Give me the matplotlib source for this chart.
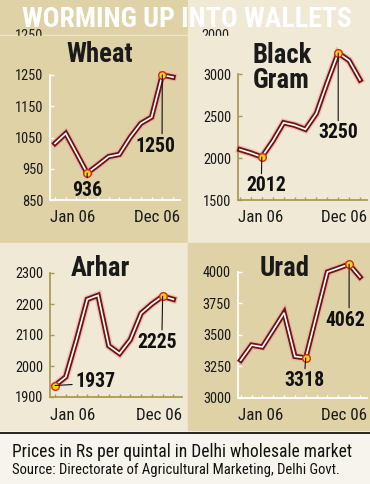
import matplotlib
matplotlib.use("Agg")
import matplotlib.pyplot as plt
from matplotlib import font_manager
from matplotlib.patches import Rectangle

W, H = 370, 484

months = ["Jan", "Feb", "Mar", "Apr", "May", "Jun", "Jul", "Aug", "Sep", "Oct", "Nov", "Dec"]
wheat = [1031, 1063, 1000, 936, 962, 989, 996, 1050, 1095, 1115, 1250, 1243]
black_gram = [2100, 2060, 2012, 2200, 2420, 2390, 2341, 2530, 2900, 3250, 3160, 2930]
arhar = [1937, 1965, 2085, 2215, 2228, 2065, 2040, 2085, 2170, 2200, 2225, 2215]
urad = [3300, 3420, 3405, 3540, 3676, 3330, 3318, 3660, 4000, 4030, 4062, 3960]

wheat_ticks = [850, 950, 1050, 1150, 1250]
black_gram_ticks = [1500, 2000, 2500, 3000]
arhar_ticks = [1900, 2000, 2100, 2200, 2300]
urad_ticks = [3000, 3250, 3500, 3750, 4000]

title = "WORMING UP INTO WALLETS"
note = "Prices in Rs per quintal in Delhi wholesale market"
source = "Source: Directorate of Agricultural Marketing, Delhi Govt."

# pick a narrow face if one is installed, else Roboto
names = {f.name for f in font_manager.fontManager.ttflist}
FONT = "Roboto"
for cand in ["Liberation Sans Narrow", "Roboto Condensed", "Open Sans Condensed", "Arial Narrow"]:
    if cand in names:
        FONT = cand
        break
plt.rcParams["font.family"] = [FONT, "DejaVu Sans"]

DARK = "#dfd2a6"
LIGHT = "#efe9d5"
OLIVE = "#a99c52"

fig = plt.figure(figsize=(W / 100, H / 100), dpi=100)
fig.patch.set_facecolor("#f6f4ec")
renderer = fig.canvas.get_renderer()


def fit(s, width_px, weight="normal"):
    t = fig.text(0, 0, s, fontsize=10, fontweight=weight)
    w = t.get_window_extent(renderer).width
    t.remove()
    return 10 * width_px / w


FS_TITLE = fit(title, 328, "bold")
FS_NAME = fit("Wheat", 66, "bold")
FS_TICK = fit("1250", 28)
FS_X = fit("Jan 06", 45)
FS_ANN = fit("1250", 40, "bold")
FS_NOTE = fit(note, 338)
FS_SRC = fit(source, 326)


def rect(x0, y0, x1, y1, color):
    fig.patches.append(Rectangle((x0 / W, 1 - y1 / H), (x1 - x0) / W, (y1 - y0) / H,
                                 transform=fig.transFigure, color=color, zorder=-2))


# panel backgrounds
rect(0, 0, 188, 242, DARK)
rect(188, 0, W, 242, LIGHT)
rect(0, 243, 188, 430, LIGHT)
rect(188, 243, W, 430, DARK)
fig.add_artist(plt.Line2D([0, 1], [1 - 433 / H] * 2, color="black", lw=1.2, zorder=-1))
fig.add_artist(plt.Line2D([0, 1], [1 - 35 / H] * 2, color="#f1ead2", lw=1, zorder=-1))

# header with the cut-off remnants of the row above
hax = fig.add_axes([0, 1 - 45 / H, 1, 45 / H])
hax.set_xlim(0, W)
hax.set_ylim(45, 0)
hax.axis("off")
for xpos, s in [(29, "1250"), (215, "2000")]:
    hax.text(xpos, 29, s, fontsize=FS_TICK, ha="center", va="top", color="#222222", zorder=1)
hax.add_patch(Rectangle((0, 35.6), 188, 10, color=DARK, zorder=2))
hax.add_patch(Rectangle((188, 35.6), W - 188, 10, color=LIGHT, zorder=2))
hax.text(187, 27, title, fontsize=FS_TITLE, fontweight="bold", color="white",
         ha="center", va="baseline", clip_on=False, zorder=3)


def panel(box, xlim, ylim, values, ticks, axis_color, name, name_pos, marks):
    l, t, r, b = box
    ax = fig.add_axes([l / W, 1 - b / H, (r - l) / W, (b - t) / H])
    ax.patch.set_alpha(0)
    x = list(range(len(months)))
    ax.plot(x, values, color="#f0a8a0", lw=5.8, alpha=0.6, solid_joinstyle="miter",
            clip_on=False, zorder=2)
    ax.plot(x, values, color="#6e1414", lw=3.8, solid_joinstyle="miter",
            clip_on=False, zorder=3)
    ax.plot(x, values, color="white", lw=1.2, solid_joinstyle="miter",
            clip_on=False, zorder=4)
    ax.set_xlim(*xlim)
    ax.set_ylim(*ylim)
    for s in ["top", "right"]:
        ax.spines[s].set_visible(False)
    for s in ["left", "bottom"]:
        ax.spines[s].set_color(axis_color)
        ax.spines[s].set_linewidth(1.3)
    ax.set_yticks(ticks)
    ax.set_yticklabels([str(v) for v in ticks])
    ax.set_xticks(x)
    ax.set_xticklabels([])
    ax.tick_params(axis="y", direction="in", length=3, width=1, color=axis_color,
                   labelsize=FS_TICK, pad=5, labelcolor="#1a1a1a")
    ax.tick_params(axis="x", direction="in", length=2, width=1, color=axis_color)
    ax.text(0, -18 / (b - t), "Jan 06", transform=ax.transAxes,
            fontsize=FS_X, ha="left", va="center", color="#1a1a1a")
    ax.text(1, -18 / (b - t), "Dec 06", transform=ax.transAxes,
            fontsize=FS_X, ha="right", va="center", color="#1a1a1a")
    fig.text(name_pos[0] / W, 1 - name_pos[1] / H, name, fontsize=FS_NAME, fontweight="bold",
             ha=name_pos[2], va="center", color="#1a1a1a", linespacing=0.95)
    for i, dx, dy, rel in marks:
        ax.plot(i, values[i], "o", ms=5.5, mfc="#f6d21a", mec="#d22a1a", mew=1,
                clip_on=False, zorder=5)
        ax.annotate(str(values[i]), (i, values[i]), xytext=(dx * 0.72, -dy * 0.72),
                    textcoords="offset points", ha="center", va="center",
                    fontsize=FS_ANN, fontweight="bold", color="#111111",
                    annotation_clip=False,
                    arrowprops=dict(arrowstyle="-", color="#111111", lw=0.8,
                                    shrinkA=0, shrinkB=0, relpos=rel),
                    zorder=6)
    return ax


panel((50, 75, 180, 200), (-0.465, 11.65), (850, 1250), wheat, wheat_ticks, "white",
      "Wheat", (100, 55, "center"),
      [(3, 0, 17, (0.5, 1.0)), (10, -7, 71, (0.67, 1.0))])
panel((238, 74, 367, 200), (-0.18, 11.64), (1500, 3000), black_gram, black_gram_ticks, OLIVE,
      "Black\nGram", (253, 68, "left"),
      [(2, 4, 29, (0.39, 1.0)), (9, 0, 80, (0.5, 1.0))])
panel((50, 273, 182, 397), (-0.465, 11.8), (1900, 2300), arhar, arhar_ticks, OLIVE,
      "Arhar", (100, 268, "center"),
      [(0, 40, -4, (0.0, 0.35)), (10, -5, 46, (0.61, 1.0))])
panel((238, 272, 367, 398), (-0.25, 11.65), (3000, 4000), urad, urad_ticks, "white",
      "Urad", (285, 268, "center"),
      [(6, -1, 23, (0.5, 1.0)), (10, -4, 56, (0.6, 1.0))])

fig.text(12 / W, 1 - 452 / H, note, fontsize=FS_NOTE, ha="left", va="center", color="#111111")
fig.text(12 / W, 1 - 470 / H, source, fontsize=FS_SRC, ha="left", va="center", color="#111111")

fig.savefig("out.png", dpi=100, facecolor=fig.get_facecolor())
